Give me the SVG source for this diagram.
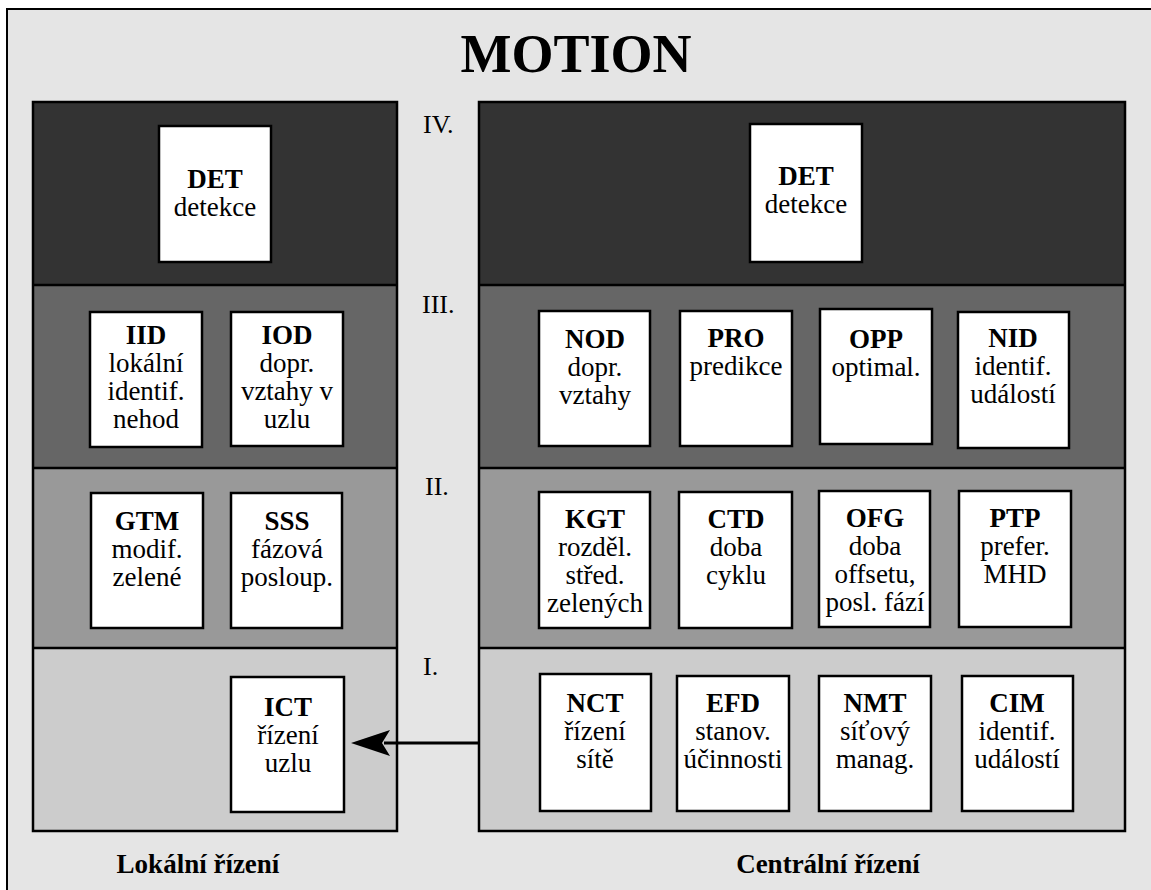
<svg xmlns="http://www.w3.org/2000/svg" width="1151" height="890" viewBox="0 0 1151 890">
  <style>
    .frame { fill: #e5e5e5; stroke: #000; stroke-width: 2; }
    .band { stroke: none; }
    .b4 { fill: #333333; }
    .b3 { fill: #666666; }
    .b2 { fill: #999999; }
    .b1 { fill: #cccccc; }
    .outline { fill: none; stroke: #000; stroke-width: 2.5; }
    .sep { stroke: #000; stroke-width: 2.5; }
    .box { fill: #ffffff; stroke: #000; stroke-width: 2.5; }
    text { font-family: "Liberation Serif", "Times New Roman", serif; fill: #000; }
    .title { font-size: 54px; font-weight: bold; text-anchor: middle; }
    .lvl { font-size: 26px; }
    .h { font-size: 27px; font-weight: bold; text-anchor: middle; }
    .t { font-size: 27px; text-anchor: middle; }
    .cap { font-size: 27px; font-weight: bold; text-anchor: middle; }
    .conn { stroke: #000; stroke-width: 3; fill: none; }
  </style>

  <rect x="0" y="0" width="1151" height="890" fill="#ffffff"/>
  <rect class="frame" x="7" y="9" width="1170" height="900"/>

  <text class="title" x="576" y="72">MOTION</text>

  <!-- layer numbers -->
  <g id="levels">
    <text class="lvl" x="423" y="133">IV.</text>
    <text class="lvl" x="422" y="313">III.</text>
    <text class="lvl" x="425" y="495">II.</text>
    <text class="lvl" x="423" y="675">I.</text>
  </g>

  <!-- local control panel -->
  <g id="panel-local">
    <rect class="band b4" x="33" y="102" width="364" height="183"/>
    <rect class="band b3" x="33" y="285" width="364" height="183"/>
    <rect class="band b2" x="33" y="468" width="364" height="180"/>
    <rect class="band b1" x="33" y="648" width="364" height="183"/>
    <line class="sep" x1="33" y1="285" x2="397" y2="285"/>
    <line class="sep" x1="33" y1="468" x2="397" y2="468"/>
    <line class="sep" x1="33" y1="648" x2="397" y2="648"/>
    <rect class="outline" x="33" y="102" width="364" height="729"/>
  </g>

  <!-- central control panel -->
  <g id="panel-central">
    <rect class="band b4" x="479" y="102" width="646" height="183"/>
    <rect class="band b3" x="479" y="285" width="646" height="183"/>
    <rect class="band b2" x="479" y="468" width="646" height="180"/>
    <rect class="band b1" x="479" y="648" width="646" height="183"/>
    <line class="sep" x1="479" y1="285" x2="1125" y2="285"/>
    <line class="sep" x1="479" y1="468" x2="1125" y2="468"/>
    <line class="sep" x1="479" y1="648" x2="1125" y2="648"/>
    <rect class="outline" x="479" y="102" width="646" height="729"/>
  </g>

  <!-- local modules -->
  <g id="det-local">
    <rect class="box" x="159" y="126" width="112" height="136"/>
    <text class="h" x="215" y="188">DET</text>
    <text class="t" x="215" y="216">detekce</text>
  </g>
  <g id="iid">
    <rect class="box" x="90" y="312" width="112" height="135"/>
    <text class="h" x="146" y="344">IID</text>
    <text class="t" x="146" y="372">lokální</text>
    <text class="t" x="146" y="400">identif.</text>
    <text class="t" x="146" y="428">nehod</text>
  </g>
  <g id="iod">
    <rect class="box" x="231" y="312" width="112" height="134"/>
    <text class="h" x="287" y="344">IOD</text>
    <text class="t" x="287" y="372">dopr.</text>
    <text class="t" x="287" y="400">vztahy v</text>
    <text class="t" x="287" y="428">uzlu</text>
  </g>
  <g id="gtm">
    <rect class="box" x="91" y="493" width="112" height="135"/>
    <text class="h" x="147" y="530">GTM</text>
    <text class="t" x="147" y="558">modif.</text>
    <text class="t" x="147" y="586">zelené</text>
  </g>
  <g id="sss">
    <rect class="box" x="231" y="493" width="111" height="135"/>
    <text class="h" x="287" y="530">SSS</text>
    <text class="t" x="287" y="558">fázová</text>
    <text class="t" x="287" y="586">posloup.</text>
  </g>
  <g id="ict">
    <rect class="box" x="231" y="677" width="113" height="135"/>
    <text class="h" x="288" y="716">ICT</text>
    <text class="t" x="288" y="744">řízení</text>
    <text class="t" x="288" y="772">uzlu</text>
  </g>

  <!-- central modules -->
  <g id="det-central">
    <rect class="box" x="750" y="124" width="112" height="138"/>
    <text class="h" x="806" y="185">DET</text>
    <text class="t" x="806" y="213">detekce</text>
  </g>
  <g id="nod">
    <rect class="box" x="539" y="311" width="111" height="135"/>
    <text class="h" x="595" y="348">NOD</text>
    <text class="t" x="595" y="376">dopr.</text>
    <text class="t" x="595" y="404">vztahy</text>
  </g>
  <g id="pro">
    <rect class="box" x="680" y="311" width="112" height="135"/>
    <text class="h" x="736" y="347">PRO</text>
    <text class="t" x="736" y="375">predikce</text>
  </g>
  <g id="opp">
    <rect class="box" x="820" y="309" width="112" height="135"/>
    <text class="h" x="876" y="348">OPP</text>
    <text class="t" x="876" y="376">optimal.</text>
  </g>
  <g id="nid">
    <rect class="box" x="958" y="312" width="111" height="136"/>
    <text class="h" x="1013" y="347">NID</text>
    <text class="t" x="1013" y="375">identif.</text>
    <text class="t" x="1013" y="403">událostí</text>
  </g>
  <g id="kgt">
    <rect class="box" x="539" y="492" width="111" height="136"/>
    <text class="h" x="595" y="528">KGT</text>
    <text class="t" x="595" y="556">rozděl.</text>
    <text class="t" x="595" y="584">střed.</text>
    <text class="t" x="595" y="612">zelených</text>
  </g>
  <g id="ctd">
    <rect class="box" x="679" y="492" width="113" height="136"/>
    <text class="h" x="736" y="528">CTD</text>
    <text class="t" x="736" y="556">doba</text>
    <text class="t" x="736" y="584">cyklu</text>
  </g>
  <g id="ofg">
    <rect class="box" x="819" y="491" width="111" height="136"/>
    <text class="h" x="875" y="527">OFG</text>
    <text class="t" x="875" y="555">doba</text>
    <text class="t" x="875" y="583">offsetu,</text>
    <text class="t" x="875" y="611">posl. fází</text>
  </g>
  <g id="ptp">
    <rect class="box" x="959" y="491" width="112" height="136"/>
    <text class="h" x="1015" y="527">PTP</text>
    <text class="t" x="1015" y="555">prefer.</text>
    <text class="t" x="1015" y="583">MHD</text>
  </g>
  <g id="nct">
    <rect class="box" x="540" y="674" width="111" height="137"/>
    <text class="h" x="595" y="712">NCT</text>
    <text class="t" x="595" y="740">řízení</text>
    <text class="t" x="595" y="768">sítě</text>
  </g>
  <g id="efd">
    <rect class="box" x="677" y="676" width="112" height="135"/>
    <text class="h" x="733" y="712">EFD</text>
    <text class="t" x="733" y="740">stanov.</text>
    <text class="t" x="733" y="768">účinnosti</text>
  </g>
  <g id="nmt">
    <rect class="box" x="819" y="676" width="112" height="135"/>
    <text class="h" x="875" y="712">NMT</text>
    <text class="t" x="875" y="740">síťový</text>
    <text class="t" x="875" y="768">manag.</text>
  </g>
  <g id="cim">
    <rect class="box" x="962" y="676" width="111" height="135"/>
    <text class="h" x="1017" y="712">CIM</text>
    <text class="t" x="1017" y="740">identif.</text>
    <text class="t" x="1017" y="768">událostí</text>
  </g>

  <!-- connectors -->
  <g id="connectors">
    <line class="conn" x1="479" y1="743" x2="384" y2="743"/>
    <path d="M351,743 L390,730 L382,743 L390,756 Z" fill="#000"/>
  </g>

  <!-- panel captions -->
  <text class="cap" x="198" y="873">Lokální řízení</text>
  <text class="cap" x="828" y="873">Centrální řízení</text>
</svg>
